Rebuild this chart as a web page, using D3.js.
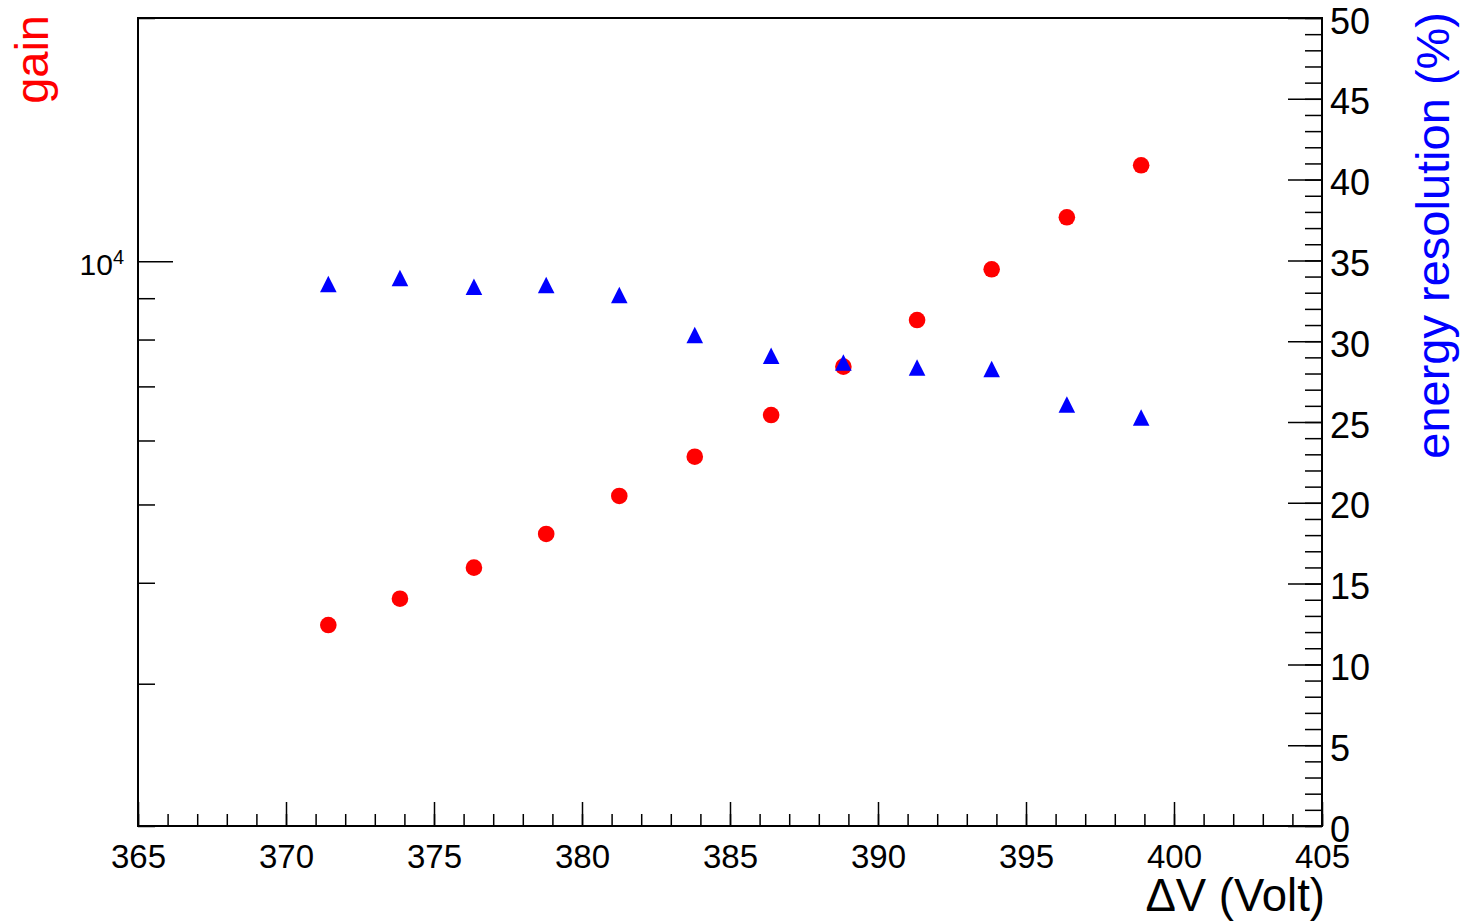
<!DOCTYPE html>
<html>
<head>
<meta charset="utf-8">
<script src="https://cdn.jsdelivr.net/npm/d3@7"></script>
<style>
  body { margin: 0; background: #fff; }
  svg { display: block; font-family: "Liberation Sans", Arial, Helvetica, sans-serif; }
</style>
</head>
<body>
<div id="chart"></div>
<script>
// values
var voltage = [371.43, 373.85, 376.35, 378.79, 381.26, 383.81, 386.39, 388.83, 391.32, 393.84, 396.38, 398.89];
var gain = [3546, 3822, 4176, 4597, 5123, 5729, 6451, 7405, 8457, 9773, 11335, 13145];
var resolution = [33.54, 33.91, 33.37, 33.48, 32.86, 30.38, 29.10, 28.68, 28.37, 28.28, 26.08, 25.28];

var xMajor = [365, 370, 375, 380, 385, 390, 395, 400, 405];
var gainMinor = [2000, 3000, 4000, 5000, 6000, 7000, 8000, 9000, 20000];
var gainMajor = [10000];
var resMajor = [0, 5, 10, 15, 20, 25, 30, 35, 40, 45, 50];

var width = 1474,
    height = 921,
    frameLeft = 138,
    frameRight = 1322,
    frameTop = 18,
    frameBottom = 826;

var svg = d3.select("#chart").append("svg")
    .attr("width", width)
    .attr("height", height);

var x = d3.scaleLinear().domain([365, 405]).range([frameLeft, frameRight]);
var yGain = d3.scaleLog().domain([2000, 20000]).range([frameBottom, frameTop]);
var yRes = d3.scaleLinear().domain([0, 50]).range([frameBottom, frameTop]);

var styleAxis = function(g, fontSize) {
    g.select(".domain").remove();
    g.selectAll("line").attr("stroke", "#000").attr("stroke-width", 1.5);
    g.selectAll("text").attr("font-size", fontSize).attr("fill", "#000")
        .attr("font-family", "'Liberation Sans', Arial, sans-serif");
};

// x axis: minor every 1 V, major every 5 V
svg.append("g").attr("transform", "translate(0," + frameBottom + ")")
    .call(d3.axisBottom(x).tickValues(d3.range(365, 406, 1)).tickSize(-12).tickSizeOuter(0).tickFormat(""))
    .call(styleAxis, 33);
svg.append("g").attr("transform", "translate(0," + frameBottom + ")")
    .call(d3.axisBottom(x).tickValues(xMajor).tickSize(-24).tickSizeOuter(0).tickPadding(19).tickFormat(d3.format("d")))
    .call(styleAxis, 33);

// left log axis (gain)
svg.append("g").attr("transform", "translate(" + frameLeft + ",0)")
    .call(d3.axisLeft(yGain).tickValues(gainMinor).tickSize(-17).tickSizeOuter(0).tickFormat(""))
    .call(styleAxis, 30);
var gMaj = svg.append("g").attr("transform", "translate(" + frameLeft + ",0)")
    .call(d3.axisLeft(yGain).tickValues(gainMajor).tickSize(-35).tickSizeOuter(0).tickFormat(""))
    .call(styleAxis, 30);
gMaj.selectAll(".tick").each(function(d) {
    var t = d3.select(this).append("text")
        .attr("x", -14)
        .attr("y", 13)
        .attr("text-anchor", "end")
        .attr("fill", "#000")
        .attr("font-size", 30);
    t.append("tspan").text("10");
    t.append("tspan").attr("dy", -11).attr("font-size", 20).text(Math.round(Math.log10(d)));
});

// right axis (energy resolution)
svg.append("g").attr("transform", "translate(" + frameRight + ",0)")
    .call(d3.axisRight(yRes).tickValues(d3.range(0, 51, 1)).tickSize(-17).tickSizeOuter(0).tickFormat(""))
    .call(styleAxis, 36);
svg.append("g").attr("transform", "translate(" + frameRight + ",0)")
    .call(d3.axisRight(yRes).tickValues(resMajor).tickSize(-34).tickSizeOuter(0).tickPadding(8).tickFormat(d3.format("d")))
    .call(styleAxis, 36)
    .selectAll("text").attr("dy", "0.42em");

// frame
svg.append("rect")
    .attr("x", frameLeft).attr("y", frameTop)
    .attr("width", frameRight - frameLeft).attr("height", frameBottom - frameTop)
    .attr("fill", "none").attr("stroke", "#000").attr("stroke-width", 2);

// gain points
svg.append("g").selectAll("circle")
    .data(voltage)
    .enter().append("circle")
    .attr("cx", function(d) { return x(d); })
    .attr("cy", function(d, i) { return yGain(gain[i]); })
    .attr("r", 8.3)
    .attr("fill", "#ff0000");

// resolution points
var tri = 8.3;
svg.append("g").selectAll("path")
    .data(voltage)
    .enter().append("path")
    .attr("d", function(d, i) {
        var cx = x(d), cy = yRes(resolution[i]);
        return "M" + (cx - tri) + "," + (cy + tri) + "L" + (cx + tri) + "," + (cy + tri) + "L" + cx + "," + (cy - tri) + "Z";
    })
    .attr("fill", "#0000ff");

// titles
svg.append("text")
    .attr("transform", "translate(1325,911)")
    .attr("text-anchor", "end")
    .attr("font-size", 45.5)
    .attr("fill", "#000")
    .text("\u0394V (Volt)");

svg.append("text")
    .attr("transform", "translate(48,15) rotate(-90)")
    .attr("text-anchor", "end")
    .attr("font-size", 47)
    .attr("fill", "#ff0000")
    .text("gain");

svg.append("text")
    .attr("transform", "translate(1449,12) rotate(-90)")
    .attr("text-anchor", "end")
    .attr("font-size", 47)
    .attr("fill", "#0000ff")
    .text("energy resolution (%)");
</script>
</body>
</html>
